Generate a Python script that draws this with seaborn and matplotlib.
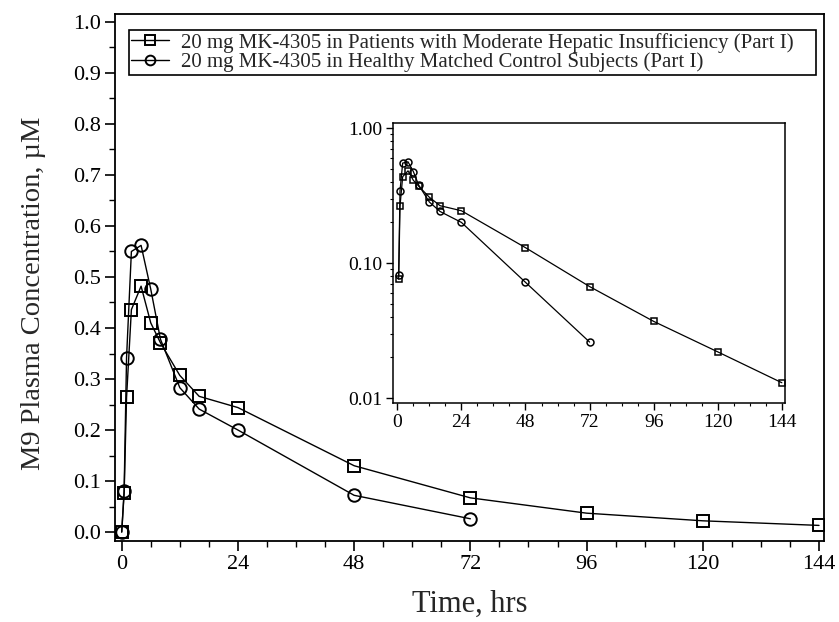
import matplotlib
matplotlib.use("Agg")
import matplotlib.pyplot as plt
import seaborn as sns
import numpy as np
import pandas as pd
from matplotlib.ticker import MultipleLocator, FixedLocator, FormatStrFormatter, LogLocator, NullFormatter

# ---- data ----
time_pat = [0, 0.5, 1, 2, 4, 6, 8, 12, 16, 24, 48, 72, 96, 120, 144]
conc_pat = [0.0, 0.076, 0.264, 0.436, 0.482, 0.410, 0.371, 0.307, 0.266, 0.244, 0.130, 0.067, 0.037, 0.022, 0.013]
time_ctl = [0, 0.5, 1, 2, 4, 6, 8, 12, 16, 24, 48, 72]
conc_ctl = [0.0, 0.081, 0.342, 0.550, 0.562, 0.476, 0.378, 0.283, 0.241, 0.200, 0.072, 0.026]
label_pat = "20 mg MK-4305 in Patients with Moderate Hepatic Insufficiency (Part I)"
label_ctl = "20 mg MK-4305 in Healthy Matched Control Subjects (Part I)"
x_ticks = [0, 24, 48, 72, 96, 120, 144]
y_ticks = [0.0, 0.1, 0.2, 0.3, 0.4, 0.5, 0.6, 0.7, 0.8, 0.9, 1.0]
inset_y_ticks = [0.01, 0.10, 1.00]

sns.set_style("ticks")
plt.rcParams['font.family'] = ['Liberation Serif', 'DejaVu Serif']

fig = plt.figure(figsize=(8.39, 6.22), dpi=100)
ax = fig.add_axes([0.1371, 0.1307, 0.8454, 0.8463])

df_pat = pd.DataFrame({"t": time_pat, "c": conc_pat})
df_ctl = pd.DataFrame({"t": time_ctl, "c": conc_ctl})

common = dict(color="black", linewidth=1.0, markerfacecolor="none",
              markeredgecolor="black", markeredgewidth=1.4)
sns.lineplot(data=df_pat, x="t", y="c", marker="s", markersize=8.5, label=label_pat, ax=ax, **common)
sns.lineplot(data=df_ctl, x="t", y="c", marker="o", markersize=9, label=label_ctl, ax=ax, **common)

ax.set_xlim(-1.38, 145.1)
ax.set_ylim(-0.017, 1.015)
ax.xaxis.set_major_locator(FixedLocator(x_ticks))
ax.xaxis.set_minor_locator(MultipleLocator(6))
ax.yaxis.set_major_locator(FixedLocator(y_ticks))
ax.yaxis.set_minor_locator(MultipleLocator(0.05))
ax.yaxis.set_major_formatter(FormatStrFormatter("%.1f"))
ax.tick_params(axis="both", which="major", direction="out", length=7, width=1.2,
               labelsize=16, colors="black", pad=3)
ax.tick_params(axis="both", which="minor", direction="out", length=4, width=1.0, colors="black")
for s in ax.spines.values():
    s.set_visible(True)
    s.set_linewidth(1.3)
    s.set_color("black")
ax.set_xlabel("Time, hrs", fontsize=22, labelpad=12)
ax.set_ylabel("M9 Plasma Concentration, \u00b5M", fontsize=20.5)
ax.yaxis.set_label_coords(-0.097, 0.47)

leg = ax.legend(loc="upper left", bbox_to_anchor=(0.0197, 0.970, 0.9686, 0.0), mode="expand",
                frameon=True, fancybox=False, framealpha=1, edgecolor="black",
                fontsize=15, borderaxespad=0, handlelength=1.8, handletextpad=0.6,
                borderpad=0.12, labelspacing=0.0)
leg.get_frame().set_linewidth(1.2)
for h in leg.legend_handles:
    h.set_markersize(7)

# ---- inset (log scale) ----
axin = fig.add_axes([0.4688, 0.3521, 0.4672, 0.4502])
df_pat_in = df_pat[df_pat["c"] > 0]
df_ctl_in = df_ctl[df_ctl["c"] > 0]
common_in = dict(color="black", linewidth=0.9, markerfacecolor="none",
                 markeredgecolor="black", markeredgewidth=1.1)
sns.lineplot(data=df_pat_in, x="t", y="c", marker="s", markersize=5, ax=axin, legend=False, **common_in)
sns.lineplot(data=df_ctl_in, x="t", y="c", marker="o", markersize=5, ax=axin, legend=False, **common_in)
axin.set_yscale("log")
axin.set_xlim(-1.5, 145.3)
axin.set_ylim(0.0092, 1.09)
axin.xaxis.set_major_locator(FixedLocator(x_ticks))
axin.xaxis.set_minor_locator(MultipleLocator(6))
axin.yaxis.set_major_locator(FixedLocator(inset_y_ticks))
axin.yaxis.set_major_formatter(FormatStrFormatter("%.2f"))
axin.yaxis.set_minor_locator(LogLocator(base=10, subs=np.arange(2, 10)))
axin.yaxis.set_minor_formatter(NullFormatter())
axin.tick_params(axis="both", which="major", direction="out", length=5, width=1.0,
                 labelsize=14, colors="black", pad=3)
axin.tick_params(axis="both", which="minor", direction="out", length=2.5, width=0.8, colors="black")
for s in axin.spines.values():
    s.set_visible(True)
    s.set_linewidth(1.1)
    s.set_color("black")
axin.set_xlabel("")
axin.set_ylabel("")

fig.savefig("out.png", dpi=100)
